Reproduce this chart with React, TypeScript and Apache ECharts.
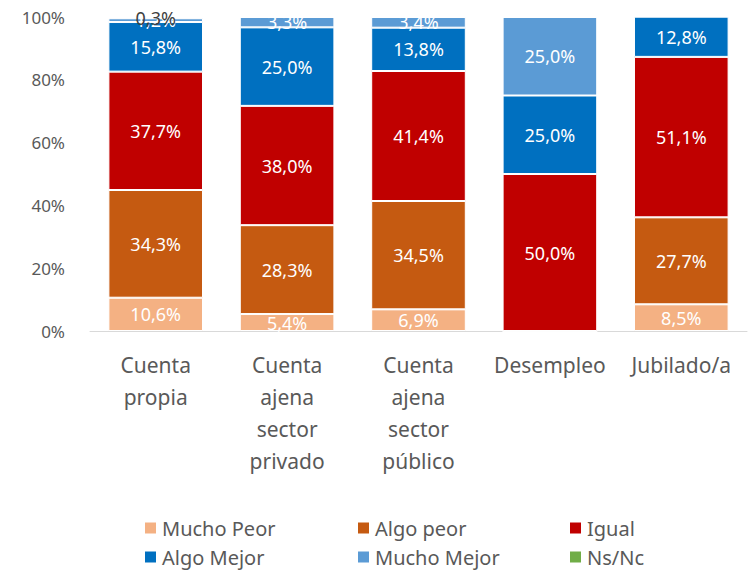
import React, { useEffect, useRef } from "react";
import * as echarts from "echarts";

const categories = [
  "Cuenta\npropia",
  "Cuenta\najena\nsector\nprivado",
  "Cuenta\najena\nsector\npúblico",
  "Desempleo",
  "Jubilado/a",
];
const seriesNames = ["Mucho Peor", "Algo peor", "Igual", "Algo Mejor", "Mucho Mejor", "Ns/Nc"];
const muchoPeor = [10.6, 5.4, 6.9, 0, 8.5];
const algoPeor = [34.3, 28.3, 34.5, 0, 27.7];
const igual = [37.7, 38.0, 41.4, 50.0, 51.1];
const algoMejor = [15.8, 25.0, 13.8, 25.0, 12.8];
const muchoMejor = [1.2, 3.3, 3.4, 25.0, 0];
const nsnc = [0.3, 0, 0, 0, 0];
const yTicks = [0, 20, 40, 60, 80, 100];

const colors = ["#F4B183", "#C55A11", "#C00000", "#0070C0", "#5B9BD5", "#70AD47"];
const FONT = "'Noto Sans', sans-serif";

export default function App() {
  const ref = useRef<HTMLDivElement>(null);
  useEffect(() => {
    if (!ref.current) return;
    const chart = echarts.init(ref.current, undefined, { renderer: "svg" });
    const data = [muchoPeor, algoPeor, igual, algoMejor, muchoMejor, nsnc];
    const series = seriesNames.map((name, i) => ({
      name,
      type: "bar",
      stack: "total",
      barWidth: "72%",
      data: data[i],
      itemStyle: { color: colors[i], borderColor: "#ffffff", borderWidth: 1 },
      label: {
        show: true,
        position: "inside",
        color: i === 5 ? "#404040" : "#ffffff",
        fontFamily: FONT,
        fontSize: 18,
        formatter: (p: any) =>
          p.value > 0 ? p.value.toFixed(1).replace(".", ",") + "%" : "",
      },
    }));
    const legendPos = [
      [143, 517],
      [356, 517],
      [568, 517],
      [143, 546],
      [356, 546],
      [568, 546],
    ];
    const legends = seriesNames.map((name, i) => ({
      data: [name],
      left: legendPos[i][0],
      top: legendPos[i][1],
      padding: 0,
      itemWidth: 13,
      itemHeight: 13,
      itemGap: 8,
      icon: "rect",
      selectedMode: false,
      textStyle: { fontFamily: FONT, fontSize: 20, lineHeight: 22, color: "#595959" },
    }));
    chart.setOption({
      animation: false,
      color: colors,
      grid: { left: 90, right: 2, top: 17, bottom: 241, containLabel: false },
      legend: legends,
      xAxis: {
        type: "category",
        data: categories,
        axisLine: { show: true, lineStyle: { color: "#d9d9d9", width: 1 } },
        axisTick: { show: false },
        axisLabel: {
          interval: 0,
          margin: 18,
          fontFamily: FONT,
          fontSize: 21,
          lineHeight: 32,
          color: "#595959",
        },
      },
      yAxis: {
        type: "value",
        min: yTicks[0],
        max: yTicks[yTicks.length - 1],
        interval: 20,
        splitLine: { show: false },
        axisLine: { show: false },
        axisTick: { show: false },
        axisLabel: {
          margin: 25,
          fontFamily: FONT,
          fontSize: 17,
          color: "#595959",
          formatter: "{value}%",
        },
      },
      series,
    });
    return () => chart.dispose();
  }, []);
  return <div ref={ref} style={{ width: 749, height: 572, position: "absolute", left: 0, top: 0 }} />;
}
